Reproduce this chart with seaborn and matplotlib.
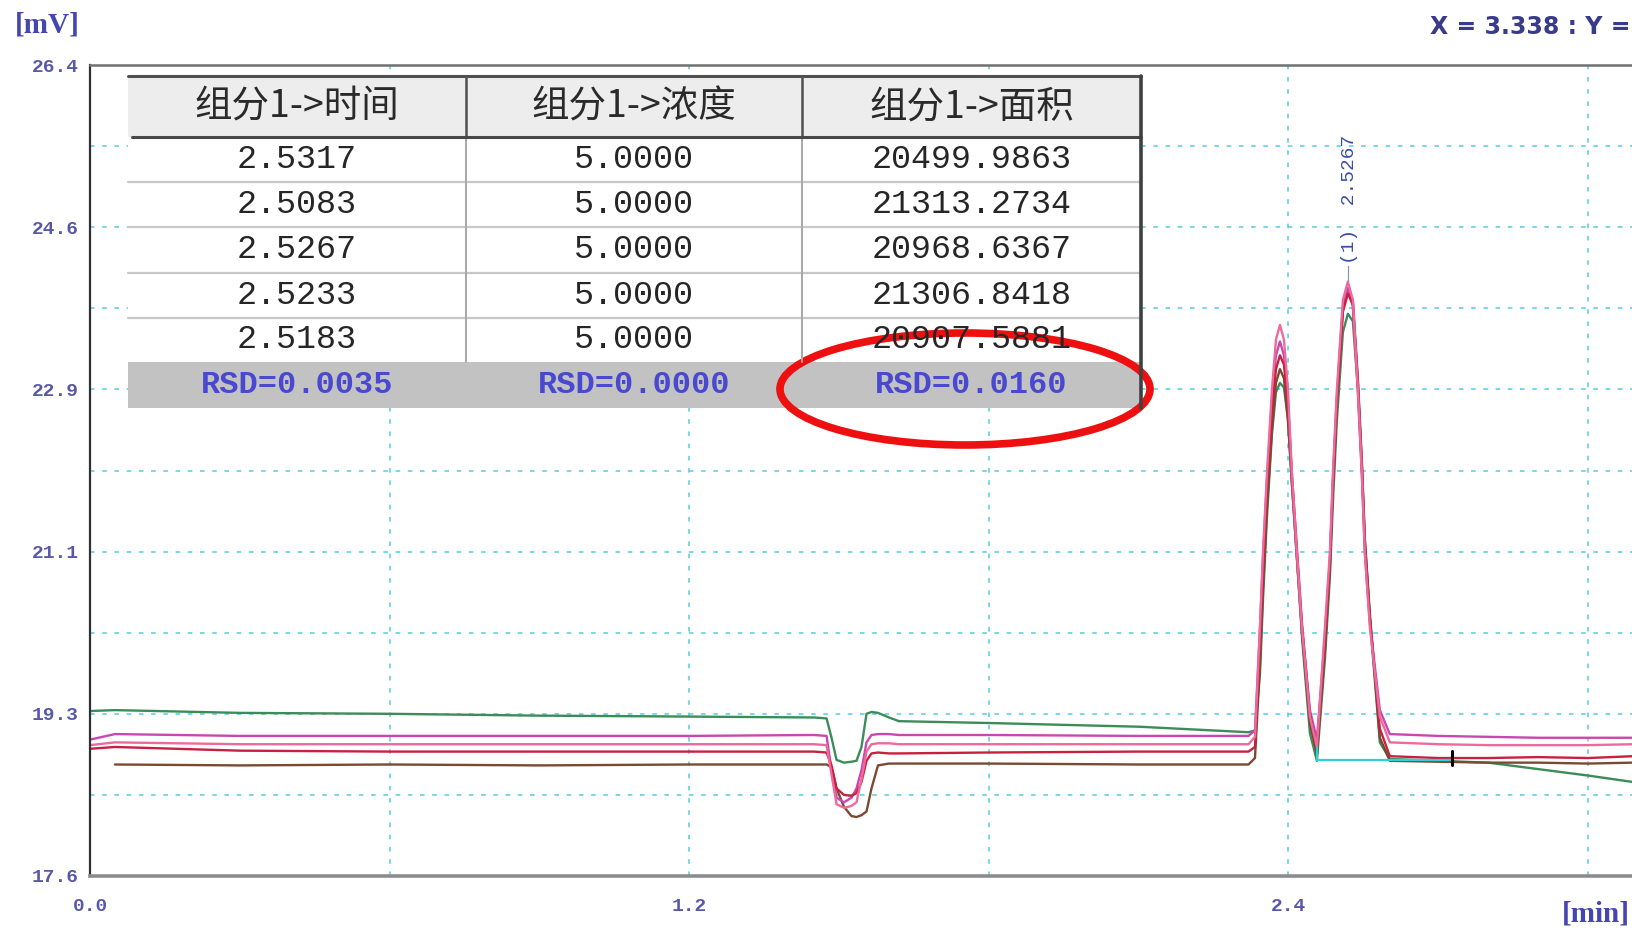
import pandas as pd
import seaborn as sns
import matplotlib.pyplot as plt
from matplotlib.patches import Rectangle, Ellipse

# retention time grid (min), shared by the five injections
time_min = [0.00, 0.05, 0.30, 0.60, 0.90, 1.20,
            1.45, 1.475, 1.485, 1.495, 1.51, 1.525, 1.535, 1.545, 1.555, 1.565, 1.578, 1.60, 1.62,
            1.80, 2.10, 2.32,
            2.333, 2.343, 2.349, 2.357, 2.367, 2.375, 2.383, 2.391, 2.399, 2.407, 2.417, 2.427, 2.443,
            2.457, 2.473, 2.483, 2.489, 2.497, 2.509, 2.519, 2.529, 2.539, 2.547, 2.553, 2.563, 2.583, 2.603,
            2.70, 2.80, 2.90, 3.00, 3.09]

# detector signal (mV) of each injection
green_mv = [19.39, 19.40, 19.37, 19.36, 19.34, 19.33,
            19.32, 19.31, 19.10, 18.86, 18.83, 18.84, 18.85, 19.00, 19.36, 19.38, 19.37, 19.32, 19.28,
            19.26, 19.22, 19.16,
            19.18, 19.80, 20.60, 21.50, 22.40, 22.85, 22.95, 22.90, 22.55, 21.85, 21.05, 20.20, 19.15,
            18.85, 19.95, 20.85, 21.65, 22.55, 23.50, 23.70, 23.62, 22.90, 22.05, 21.25, 20.40, 19.05, 18.87,
            18.85, 18.83, 18.76, 18.69, 18.62]
dark_mv = [None, 18.81, 18.80, 18.81, 18.80, 18.81,
           18.81, 18.81, 18.78, 18.55, 18.35, 18.25, 18.24, 18.26, 18.30, 18.55, 18.80, 18.82, 18.82,
           18.82, 18.81, 18.81,
           18.88, 19.90, 20.70, 21.60, 22.45, 22.95, 23.10, 23.00, 22.55, 21.85, 21.05, 20.25, 19.25,
           18.92, 20.05, 20.95, 21.80, 22.70, 23.75, 23.95, 23.85, 23.00, 22.10, 21.25, 20.45, 19.10, 18.85,
           18.84, 18.83, 18.83, 18.82, 18.83]
magenta_mv = [19.08, 19.14, 19.12, 19.12, 19.12, 19.12,
              19.13, 19.12, 18.75, 18.45, 18.40, 18.45, 18.55, 18.75, 19.05, 19.13, 19.14, 19.14, 19.13,
              19.13, 19.12, 19.12,
              19.18, 20.30, 21.05, 21.90, 22.75, 23.25, 23.40, 23.25, 22.75, 21.90, 21.05, 20.30, 19.40,
              19.08, 20.20, 21.05, 21.90, 22.80, 23.78, 23.98, 23.78, 22.85, 21.95, 21.10, 20.35, 19.40, 19.14,
              19.12, 19.11, 19.10, 19.10, 19.10]
red_mv = [18.98, 19.00, 18.96, 18.95, 18.95, 18.95,
          18.95, 18.94, 18.80, 18.55, 18.48, 18.47, 18.50, 18.62, 18.85, 18.93, 18.94, 18.93, 18.93,
          18.94, 18.95, 18.95,
          19.00, 20.10, 20.90, 21.80, 22.65, 23.10, 23.25, 23.15, 22.70, 21.95, 21.15, 20.35, 19.35,
          18.98, 20.15, 21.00, 21.85, 22.75, 23.72, 23.92, 23.80, 22.95, 22.05, 21.20, 20.40, 19.20, 18.90,
          18.88, 18.88, 18.89, 18.88, 18.90]
pink_mv = [19.02, 19.05, 19.03, 19.03, 19.03, 19.03,
           19.03, 19.02, 18.70, 18.38, 18.34, 18.36, 18.40, 18.65, 18.95, 19.03, 19.04, 19.04, 19.03,
           19.03, 19.03, 19.03,
           19.11, 20.30, 21.11, 21.97, 22.88, 23.42, 23.58, 23.42, 22.88, 21.97, 21.11, 20.30, 19.33,
           19.00, 20.30, 21.11, 21.97, 22.88, 23.85, 24.05, 23.85, 22.88, 21.97, 21.11, 20.30, 19.33, 19.05,
           19.03, 19.02, 19.02, 19.02, 19.03]

# integration baseline of peak (1) and its end marker
baseline_t = [2.457, 2.727]
baseline_mv = [18.86, 18.86]
valley_mv = [19.00, 18.86]
end_mark_mv = [18.80, 18.96]
peak_rt = 2.519
peak_top = 24.05

# results table
headers = ["组分1->时间", "组分1->浓度", "组分1->面积"]
ret_time = [2.5317, 2.5083, 2.5267, 2.5233, 2.5183]
conc = [5.0, 5.0, 5.0, 5.0, 5.0]
area = [20499.9863, 21313.2734, 20968.6367, 21306.8418, 20907.5881]
rsd = [0.0035, 0.0000, 0.0160]

y_ticks = [17.6, 19.36, 21.12, 22.88, 24.64, 26.4]
y_labels = ["17.6", "19.3", "21.1", "22.9", "24.6", "26.4"]
x_ticks = [0.0, 1.2, 2.4]
x_labels = ["0.0", "1.2", "2.4"]

runs = {"green": green_mv, "dark": dark_mv, "magenta": magenta_mv, "red": red_mv, "pink": pink_mv}
frames = []
for name, vals in runs.items():
    frames.append(pd.DataFrame({"time": time_min, "mv": vals, "run": name}))
df = pd.concat(frames).dropna()

palette = {"green": "#3c8c5a", "dark": "#7a4a30", "magenta": "#c848b0",
           "red": "#c82040", "pink": "#ee6a9c"}

sns.set_style("white")
plt.rcParams["font.family"] = ["DejaVu Sans"]

W, H = 1632, 932
fig = plt.figure(figsize=(W / 100, H / 100), dpi=100)
ax = fig.add_axes([90 / W, 1 - 876 / H, 1 - 90 / W, (876 - 65) / H])

# grid first
grid_kw = dict(color="#55cde0", lw=1.1, ls=(0, (3, 5)))
for yv in [17.6 + 0.88 * i for i in range(1, 10)]:
    ax.axhline(yv, **grid_kw, zorder=0)
for xv in [0.6, 1.2, 1.8, 2.4, 3.0]:
    ax.axvline(xv, **grid_kw, zorder=0)

sns.lineplot(data=df, x="time", y="mv", hue="run", palette=palette, estimator=None,
             sort=False, legend=False, linewidth=1.7, ax=ax)

ax.plot(baseline_t, baseline_mv, color="#30d0d8", lw=1.6)
ax.plot([baseline_t[0]] * 2, valley_mv, color="#30d0d8", lw=1.4)
ax.plot([baseline_t[1]] * 2, end_mark_mv, color="black", lw=2.2)
ax.plot([peak_rt, peak_rt], [peak_top, 24.22], color="#8a98b8", lw=0.9)
ax.text(peak_rt + 0.004, 24.24, f"(1)  {ret_time[2]:.4f}", rotation=90, ha="center", va="bottom",
        family="Liberation Mono", fontsize=14, color="#3c4ca8")

ax.set_xlim(0, 3.088)
ax.set_ylim(17.6, 26.4)
ax.set_yticks(y_ticks)
ax.set_yticklabels(y_labels)
ax.set_xticks(x_ticks)
ax.set_xticklabels(x_labels)
ax.set_xlabel("")
ax.set_ylabel("")
ax.tick_params(length=0, labelsize=14, labelcolor="#5858a8")
ax.tick_params(axis="y", pad=8)
ax.tick_params(axis="x", pad=16)
for lab in ax.get_xticklabels() + ax.get_yticklabels():
    lab.set_family("Liberation Mono")
    lab.set_fontweight("bold")

ax.spines["right"].set_visible(False)
ax.spines["left"].set_color("#303030")
ax.spines["left"].set_linewidth(1.6)
ax.spines["top"].set_color("#707070")
ax.spines["top"].set_linewidth(1.8)
ax.spines["bottom"].set_color("#8c8c8c")
ax.spines["bottom"].set_linewidth(2.6)

fig.text(15 / W, 1 - 25 / H, "[mV]", ha="left", va="center", family="Liberation Serif",
         fontweight="bold", fontsize=21, color="#4646b0")
fig.text(1630 / W, 1 - 914 / H, "[min]", ha="right", va="center", family="Liberation Serif",
         fontweight="bold", fontsize=21, color="#4646b0")
fig.text(1631 / W, 1 - 27 / H, "X = 3.338 : Y =", ha="right", va="center",
         fontweight="bold", fontsize=17, color="#3a3a8a")

# overlay in pixel units for the result table
ov = fig.add_axes([0, 0, 1, 1], zorder=5)
ov.set_xlim(0, W)
ov.set_ylim(H, 0)
ov.axis("off")

x0, x1 = 128, 1141
col_edges = [128, 466, 802, 1141]
row_edges = [137, 182, 227, 273, 318, 362]
top, head_bot, rsd_bot = 76, 137, 408

ov.add_patch(Rectangle((x0, top), x1 - x0, rsd_bot - top, fc="white", ec="none"))
ov.add_patch(Rectangle((x0, top), x1 - x0, head_bot - top, fc="#ededed", ec="none"))
ov.add_patch(Rectangle((x0, row_edges[-1]), x1 - x0, rsd_bot - row_edges[-1], fc="#c2c2c2", ec="none"))
for ye in row_edges[1:-1]:
    ov.plot([x0, x1], [ye, ye], color="#c8c8c8", lw=1.6)
for xe in col_edges[1:3]:
    ov.plot([xe, xe], [top, head_bot], color="#505050", lw=1.8)
    ov.plot([xe, xe], [head_bot, row_edges[-1]], color="#a8a8a8", lw=1.4)
ov.plot([x0 + 4, x1], [head_bot, head_bot], color="#484848", lw=2.2)
ov.plot([x0, x1], [top, top], color="#505050", lw=2.2)
ov.plot([x1, x1], [top, rsd_bot], color="#404040", lw=2.6)

col_mid = [(col_edges[i] + col_edges[i + 1]) / 2 for i in range(3)]
for c, h in enumerate(headers):
    ov.text(col_mid[c], (top + head_bot) / 2 + 1, h, ha="center", va="center",
            family=["Noto Sans CJK SC", "DejaVu Sans"], fontsize=27, color="#2a2a2a")
for r in range(5):
    yc = (row_edges[r] + row_edges[r + 1]) / 2
    cells = [f"{ret_time[r]:.4f}", f"{conc[r]:.4f}", f"{area[r]:.4f}"]
    for c, s in enumerate(cells):
        ov.text(col_mid[c], yc, s, ha="center", va="center", family="Liberation Mono",
                fontsize=24, color="#262626")
for c in range(3):
    ov.text(col_mid[c], (row_edges[-1] + rsd_bot) / 2, f"RSD={rsd[c]:.4f}", ha="center",
            va="center", family="Liberation Mono", fontsize=23, fontweight="bold", color="#4848d0")

ov.add_patch(Ellipse((965, 389), 370, 112, fill=False, ec="#ee1010", lw=5.5))

fig.savefig("out.png", dpi=100)
